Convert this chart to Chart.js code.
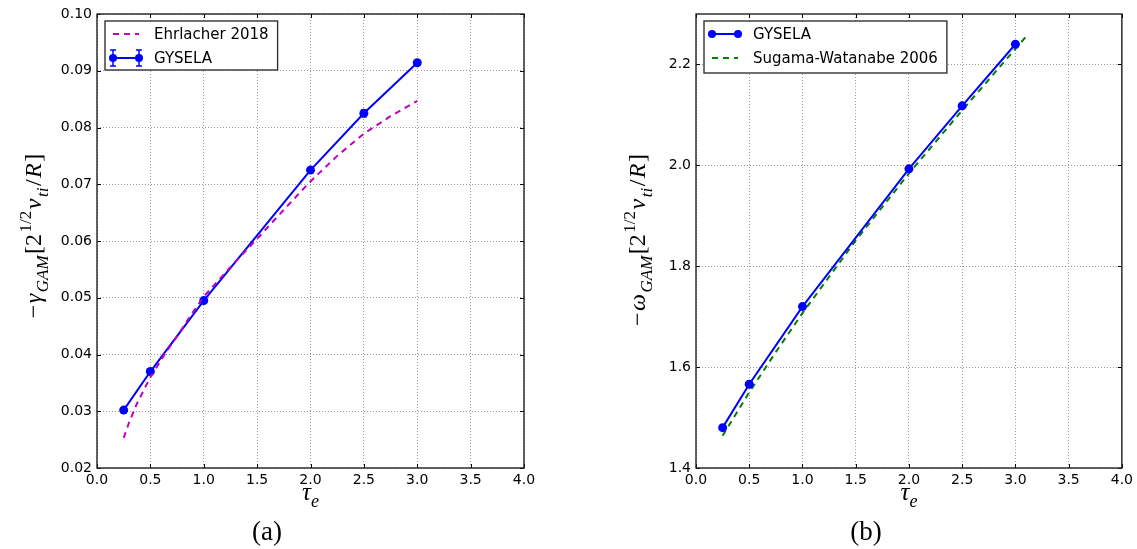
<!DOCTYPE html>
<html><head><meta charset="utf-8">
<script src="https://cdn.jsdelivr.net/npm/chart.js@4/dist/chart.umd.min.js"></script>
<style>
html,body{margin:0;padding:0;background:#fff;overflow:hidden}
#wrap{position:relative;width:1137px;height:549px}
canvas{position:absolute;top:0}
</style></head><body><div id="wrap">
<canvas id="ca" width="568" height="549" style="left:0"></canvas>
<canvas id="cb" width="569" height="549" style="left:568px"></canvas>
</div>
<script>
// ---- data ----
const xTicks = [0.0,0.5,1.0,1.5,2.0,2.5,3.0,3.5,4.0];
const yTicksA = [0.02,0.03,0.04,0.05,0.06,0.07,0.08,0.09,0.10];
const yTicksB = [1.4,1.6,1.8,2.0,2.2];

const tauGysela = [0.25,0.5,1.0,2.0,2.5,3.0];
const gyselaGamma = [0.0302,0.0370,0.0495,0.0725,0.0825,0.0914];
const gyselaGammaErr = [0.0003,0.0002,0.0003,0.0003,0.0006,0.0002];
const tauEhrlacher = [0.25,0.3,0.375,0.5,0.625,0.75,0.875,1.0,1.25,1.5,1.75,2.0,2.25,2.5,2.75,3.0];
const ehrlacherGamma = [0.0253,0.0280,0.0314,0.0360,0.0398,0.0432,0.0468,0.0502,0.0554,0.0604,0.0655,0.0705,0.0750,0.0789,0.0820,0.0847];

const gyselaOmega = [1.480,1.566,1.720,1.993,2.118,2.240];
const tauSugama = [0.25,0.5,0.75,1.0,1.5,2.0,2.5,3.0,3.12];
const sugamaOmega = [1.464,1.550,1.630,1.707,1.851,1.984,2.109,2.231,2.260];

const BLUE = '#0000ff', MAG = '#bf00bf', GREEN = '#008000';
const pts = (xs, ys) => xs.map((x,i)=>({x, y: ys[i]}));

function drawMath(ctx, segs, cx, cy, size, rotate, gap) {
  ctx.save();
  ctx.translate(cx, cy);
  if (rotate) ctx.rotate(-Math.PI/2);
  const fam = '"Liberation Serif", serif';
  const parts = segs.map(([t, it, lv]) => {
    const s = lv === 0 ? size : Math.round(size*0.7);
    const font = (it ? 'italic ' : '') + s + 'px ' + fam;
    ctx.font = font;
    return {t, font, w: ctx.measureText(t).width + gap, dy: lv === -1 ? size*0.28 : lv === 1 ? -size*0.4 : 0};
  });
  const total = parts.reduce((a,p)=>a+p.w, 0) - gap;
  let x = -total/2;
  ctx.textBaseline = 'alphabetic'; ctx.textAlign = 'left'; ctx.fillStyle = '#000';
  for (const p of parts) { ctx.font = p.font; ctx.fillText(p.t, x, p.dy + size*0.33); x += p.w; }
  ctx.restore();
}

function marker(ctx, x, y, r, c) {
  ctx.beginPath(); ctx.arc(x, y, r, 0, Math.PI*2); ctx.fillStyle = c; ctx.fill();
}

const decor = {
  id: 'decor',
  afterDatasetsDraw(chart, args, o) {
    const ctx = chart.ctx;
    const xs = chart.scales.x, ys = chart.scales.y;
    if (o.err) {
      const ds = chart.data.datasets[o.err.ds];
      ctx.save(); ctx.strokeStyle = BLUE; ctx.lineWidth = 1.5;
      ds.data.forEach((p,i)=>{
        const e = o.err.values[i];
        const px = xs.getPixelForValue(p.x);
        const y1 = ys.getPixelForValue(p.y - e), y2 = ys.getPixelForValue(p.y + e);
        ctx.beginPath(); ctx.moveTo(px, y1); ctx.lineTo(px, y2);
        ctx.moveTo(px-3, y1); ctx.lineTo(px+3, y1);
        ctx.moveTo(px-3, y2); ctx.lineTo(px+3, y2); ctx.stroke();
      });
      ctx.restore();
    }
  },
  afterDraw(chart, args, o) {
    const ctx = chart.ctx, ca = chart.chartArea;
    const xs = chart.scales.x, ys = chart.scales.y;
    ctx.save();
    ctx.strokeStyle = '#000'; ctx.lineWidth = 1;
    ctx.beginPath();
    xs.ticks.forEach(t=>{
      const px = Math.round(xs.getPixelForValue(t.value)) + 0.5;
      ctx.moveTo(px, ca.bottom); ctx.lineTo(px, ca.bottom - 4);
      ctx.moveTo(px, ca.top); ctx.lineTo(px, ca.top + 4);
    });
    ys.ticks.forEach(t=>{
      const py = Math.round(ys.getPixelForValue(t.value)) + 0.5;
      ctx.moveTo(ca.left, py); ctx.lineTo(ca.left + 4, py);
      ctx.moveTo(ca.right, py); ctx.lineTo(ca.right - 4, py);
    });
    ctx.stroke();
    ctx.strokeStyle = '#222'; ctx.lineWidth = 1.4;
    ctx.strokeRect(ca.left, ca.top, ca.right - ca.left, ca.bottom - ca.top);
    // legend
    const L = o.legend;
    const bx = ca.left + 8, by = ca.top + 7;
    ctx.font = '15px "DejaVu Sans"';
    const tw = Math.max(...L.items.map(it=>ctx.measureText(it.label).width));
    const bw = 49 + tw + 9, bh = L.h;
    ctx.fillStyle = '#fff'; ctx.fillRect(bx, by, bw, bh);
    ctx.strokeStyle = '#333'; ctx.lineWidth = 1.4; ctx.strokeRect(bx, by, bw, bh);
    L.items.forEach((it, i)=>{
      const ry = by + 13 + i*24;
      const x1 = bx + 8, x2 = bx + 34;
      ctx.strokeStyle = it.color; ctx.lineWidth = 2;
      ctx.setLineDash(it.dash || []);
      ctx.beginPath(); ctx.moveTo(x1, ry); ctx.lineTo(x2, ry); ctx.stroke();
      ctx.setLineDash([]);
      if (it.marker) { marker(ctx, x1, ry, 4, it.color); marker(ctx, x2, ry, 4, it.color); }
      if (it.err) {
        ctx.lineWidth = 1.5;
        [x1, x2].forEach(xx=>{
          ctx.beginPath(); ctx.moveTo(xx, ry-8); ctx.lineTo(xx, ry+8);
          ctx.moveTo(xx-3, ry-8); ctx.lineTo(xx+3, ry-8);
          ctx.moveTo(xx-3, ry+8); ctx.lineTo(xx+3, ry+8); ctx.stroke();
        });
      }
      ctx.fillStyle = '#000'; ctx.textBaseline = 'middle'; ctx.textAlign = 'left';
      ctx.font = '15px "DejaVu Sans"';
      ctx.fillText(it.label, bx + 49, ry + 1);
    });
    const cx = (ca.left + ca.right)/2;
    drawMath(ctx, [['\u03C4', true, 0], ['e', true, -1]], cx, 492, 25, false, 0);
    drawMath(ctx, o.ytitle, o.ytx, o.yty, 24, true, 1.5);
    ctx.fillStyle = '#000'; ctx.font = '27px "Liberation Serif", serif';
    ctx.textAlign = 'center'; ctx.textBaseline = 'middle';
    ctx.fillText(o.panel, o.panelX, 533);
    ctx.restore();
  }
};

function makeChart(id, datasets, yMin, yMax, yTicks, yDigits, yWidth, rightPad, pluginOpts) {
  return new Chart(document.getElementById(id), {
    type: 'scatter',
    data: { datasets },
    plugins: [decor],
    options: {
      responsive: false, animation: false, events: [],
      layout: { padding: { left: 0, right: rightPad, top: 14, bottom: 0 } },
      plugins: { legend: { display: false }, tooltip: { enabled: false }, decor: pluginOpts },
      scales: {
        x: {
          type: 'linear', min: 0, max: 4,
          afterBuildTicks: s => { s.ticks = xTicks.map(v=>({value: v})); },
          afterFit: s => { s.height = 81; },
          grid: { color: '#9a9a9a', lineWidth: 1, drawTicks: false },
          border: { display: false, dash: [1, 2] },
          ticks: { padding: 4, color: '#000', font: { family: '"DejaVu Sans"', size: 14 },
                   maxRotation: 0, callback: v => Number(v).toFixed(1) }
        },
        y: {
          type: 'linear', min: yMin, max: yMax,
          afterBuildTicks: s => { s.ticks = yTicks.map(v=>({value: v})); },
          afterFit: s => { s.width = yWidth; },
          grid: { color: '#9a9a9a', lineWidth: 1, drawTicks: false },
          border: { display: false, dash: [1, 2] },
          ticks: { padding: 5, color: '#000', font: { family: '"DejaVu Sans"', size: 14 },
                   callback: v => Number(v).toFixed(yDigits) }
        }
      }
    }
  });
}

makeChart('ca', [
  { label: 'Ehrlacher 2018', data: pts(tauEhrlacher, ehrlacherGamma), showLine: true, borderColor: MAG,
    borderWidth: 2, borderDash: [6, 5], pointRadius: 0, tension: 0, order: 1 },
  { label: 'GYSELA', data: pts(tauGysela, gyselaGamma), showLine: true, borderColor: BLUE, backgroundColor: BLUE,
    borderWidth: 2, pointRadius: 4.5, pointBorderWidth: 0, pointBackgroundColor: BLUE, tension: 0, order: 2 }
], 0.02, 0.10, yTicksA, 2, 97, 44, {
  err: { ds: 1, values: gyselaGammaErr },
  legend: { h: 49, items: [
    { label: 'Ehrlacher 2018', color: MAG, dash: [6, 5] },
    { label: 'GYSELA', color: BLUE, marker: true, err: true } ] },
  ytitle: [['\u2212', false, 0], ['\u03B3', true, 0], ['GAM', true, -1], ['[2', false, 0], ['1/2', false, 1],
           ['v', true, 0], ['ti', true, -1], ['/', false, 0], ['R', true, 0], [']', false, 0]],
  ytx: 33, yty: 236, panel: '(a)', panelX: 267
});

makeChart('cb', [
  { label: 'GYSELA', data: pts(tauGysela, gyselaOmega), showLine: true, borderColor: BLUE, backgroundColor: BLUE,
    borderWidth: 2, pointRadius: 4.5, pointBorderWidth: 0, pointBackgroundColor: BLUE, tension: 0, order: 1 },
  { label: 'Sugama-Watanabe 2006', data: pts(tauSugama, sugamaOmega), showLine: true, borderColor: GREEN,
    borderWidth: 2, borderDash: [6, 5], pointRadius: 0, tension: 0, order: 2 }
], 1.4, 2.3, yTicksB, 1, 128, 14, {
  legend: { h: 52, items: [
    { label: 'GYSELA', color: BLUE, marker: true },
    { label: 'Sugama-Watanabe 2006', color: GREEN, dash: [6, 5] } ] },
  ytitle: [['\u2212', false, 0], ['\u03C9', true, 0], ['GAM', true, -1], ['[2', false, 0], ['1/2', false, 1],
           ['v', true, 0], ['ti', true, -1], ['/', false, 0], ['R', true, 0], [']', false, 0]],
  ytx: 69, yty: 240, panel: '(b)', panelX: 298
});
</script>
</body></html>
